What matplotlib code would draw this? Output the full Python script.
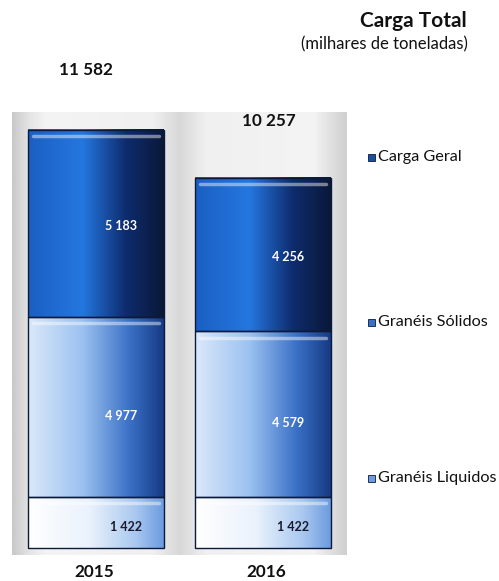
import matplotlib.pyplot as plt
import numpy as np
from matplotlib.colors import LinearSegmentedColormap

plt.rcParams['font.family'] = ['Lato', 'DejaVu Sans']

# Data
years = ['2015', '2016']
liquidos = [1422, 1422]
solidos = [4977, 4579]
geral = [5183, 4256]
series_names = ['Granéis Liquidos', 'Granéis Sólidos', 'Carga Geral']

totals = [a + b + c for a, b, c in zip(liquidos, solidos, geral)]

# horizontal gradients, left -> right
cmaps = [
    LinearSegmentedColormap.from_list('liq', [(0, '#ffffff'), (0.45, '#eaf2fc'),
                                              (0.8, '#a8c7ef'), (1, '#6b9be0')]),
    LinearSegmentedColormap.from_list('sol', [(0, '#dbe8fa'), (0.4, '#9cc2f0'),
                                              (0.75, '#3a70c6'), (1, '#163a84')]),
    LinearSegmentedColormap.from_list('ger', [(0, '#1b5fc2'), (0.4, '#2477e0'),
                                              (0.72, '#0e2c6e'), (1, '#0a1838')]),
]

fig = plt.figure(figsize=(4.99, 5.81), dpi=100)
W, H = 499, 581
ax = fig.add_axes([12 / W, (H - 555) / H, (347 - 12) / W, (555 - 112) / H])

x = np.arange(len(years))
width = 0.81

# grey backdrop panel
bg = LinearSegmentedColormap.from_list('bg', [(0, '#c9c9c9'), (0.05, '#e4e4e4'),
                                              (0.1, '#f4f4f4'), (0.42, '#f0f0f0'),
                                              (0.5, '#d8d8d8'), (0.58, '#f0f0f0'),
                                              (0.9, '#f4f4f4'), (0.95, '#e2e2e2'),
                                              (1, '#cfcfcf')])
grad = np.linspace(0, 1, 256).reshape(1, -1)
ax.imshow(grad, cmap=bg, aspect='auto', extent=(-0.5, 1.5, -194, 12081), zorder=0)

bottoms = np.zeros(len(years))
for vals, cm in zip([liquidos, solidos, geral], cmaps):
    bars = ax.bar(x, vals, width, bottom=bottoms, color='none',
                  edgecolor='#0b1a3a', linewidth=1.0, zorder=3)
    for b in bars:
        x0, y0 = b.get_x(), b.get_y()
        x1, y1 = x0 + b.get_width(), y0 + b.get_height()
        ax.imshow(grad, cmap=cm, aspect='auto', extent=(x0, x1, y0, y1), zorder=2)
        # light highlight just under the top edge
        ax.plot([x0 + 0.03, x1 - 0.03], [y1 - 170, y1 - 170], color='white',
                alpha=0.45, lw=2.5, zorder=2.5, solid_capstyle='round')
    bottoms += np.array(vals)


def fmt(v):
    return f'{v:,}'.replace(',', ' ')


# segment value labels
for i in range(len(years)):
    ax.text(x[i] + 0.18, liquidos[i] / 2 - 120, fmt(liquidos[i]),
            ha='center', va='center', fontsize=9, fontweight='bold', color='#1a1a2e', zorder=4)
    ax.text(x[i] + 0.15, liquidos[i] + solidos[i] / 2 - 250, fmt(solidos[i]),
            ha='center', va='center', fontsize=9, fontweight='bold', color='white', zorder=4)
    ax.text(x[i] + 0.15, liquidos[i] + solidos[i] + geral[i] / 2 - 60, fmt(geral[i]),
            ha='center', va='center', fontsize=9, fontweight='bold', color='white', zorder=4)
    # totals above bars
    ax.annotate(fmt(totals[i]), (x[i], totals[i]),
                xytext=(-7 if i == 0 else 4, 43 if i == 0 else 41), textcoords='offset points',
                ha='center', va='center', fontsize=12.3, fontweight='bold', color='#111111')
    # year labels
    ax.annotate(years[i], (x[i], 0), xytext=(-1 if i == 0 else 2, -17), textcoords='offset points',
                ha='center', va='center', fontsize=12.3, fontweight='bold', color='#111111',
                annotation_clip=False)

ax.set_xlim(-0.5, 1.5)
ax.set_ylim(-194, 12081)
ax.axis('off')

# title
fig.text(467 / W, 1 - 21 / H, 'Carga Total', ha='right', va='center',
         fontsize=15, fontweight='bold', color='#111111')
fig.text(468 / W, 1 - 44 / H, '(milhares de toneladas)', ha='right', va='center',
         fontsize=12, color='#111111')

# legend
legend_y = [157, 322, 478]
legend_col = ['#1a4f9e', '#3a70c6', '#6b9be0']
for name, yy, c in zip(series_names[::-1], legend_y, legend_col):
    fig.patches.append(plt.Rectangle((368 / W, 1 - (yy + 4) / H), 7 / W, 7 / H,
                                     transform=fig.transFigure, facecolor=c,
                                     edgecolor='#0b1a3a', linewidth=0.6))
    fig.text(378 / W, 1 - yy / H, name, ha='left', va='center', fontsize=11.7,
             color='#111111')

fig.savefig('out.png', dpi=100)
